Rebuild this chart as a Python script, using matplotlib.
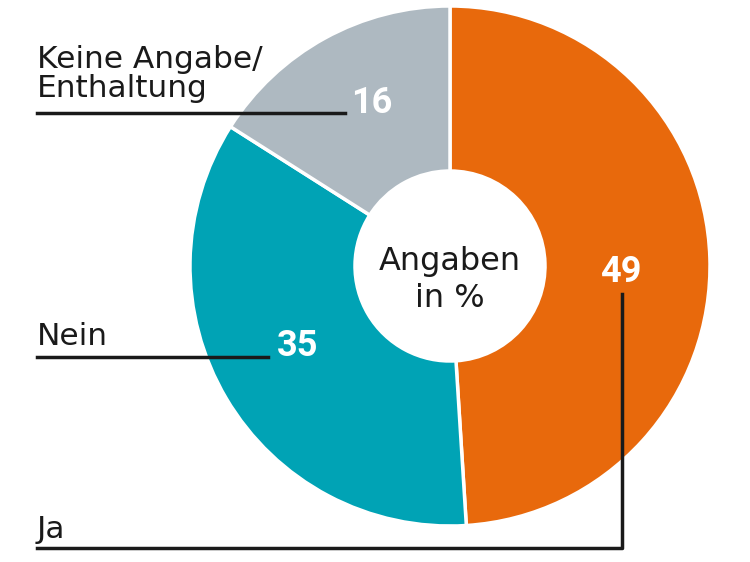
import matplotlib.pyplot as plt

labels = ["Ja", "Nein", "Keine Angabe/\nEnthaltung"]
values = [49, 35, 16]
colors = ["#E8690C", "#00A3B5", "#AEB9C1"]

fig = plt.figure(figsize=(7.5, 5.62), dpi=100)
ax = fig.add_axes([0, 0, 1, 1])

# pixel-like coordinates, y up
cx, cy, r = 450, 296, 260
ax.pie(values, colors=colors, startangle=90, counterclock=False,
       center=(cx, cy), radius=r, frame=True,
       wedgeprops=dict(width=165, edgecolor="white", linewidth=2.5))
ax.set_xlim(0, 750)
ax.set_ylim(0, 562)
ax.set_aspect("equal")
ax.axis("off")

ink = "#1a1a1a"
num_font = dict(color="white", fontsize=26, fontweight="bold",
                family=["Roboto", "DejaVu Sans"], ha="center", va="baseline")
lab_font = dict(color=ink, fontsize=22.5, family="DejaVu Sans",
                ha="left", va="baseline")

# Ja
ax.text(621, 280, str(values[0]), **num_font)
ax.plot([622, 622, 37], [268, 14, 14], color=ink, lw=2.5)
ax.text(37, 24, labels[0], **lab_font)

# Nein
ax.text(298, 206, str(values[1]), **num_font)
ax.plot([37, 268], [205, 205], color=ink, lw=2.5)
ax.text(37, 217, labels[1], **lab_font)

# Keine Angabe / Enthaltung
ax.text(372, 449, str(values[2]), **num_font)
ax.plot([37, 345], [449, 449], color=ink, lw=2.5)
line1, line2 = labels[2].split("\n")
ax.text(37, 494, line1, **lab_font)
ax.text(37, 465, line2, **lab_font)

ax.text(cx, 292, "Angaben", ha="center", va="baseline",
        fontsize=23, color=ink, family="DejaVu Sans")
ax.text(cx, 255, "in %", ha="center", va="baseline",
        fontsize=23, color=ink, family="DejaVu Sans")

fig.savefig("out.png", dpi=100, facecolor="white")
